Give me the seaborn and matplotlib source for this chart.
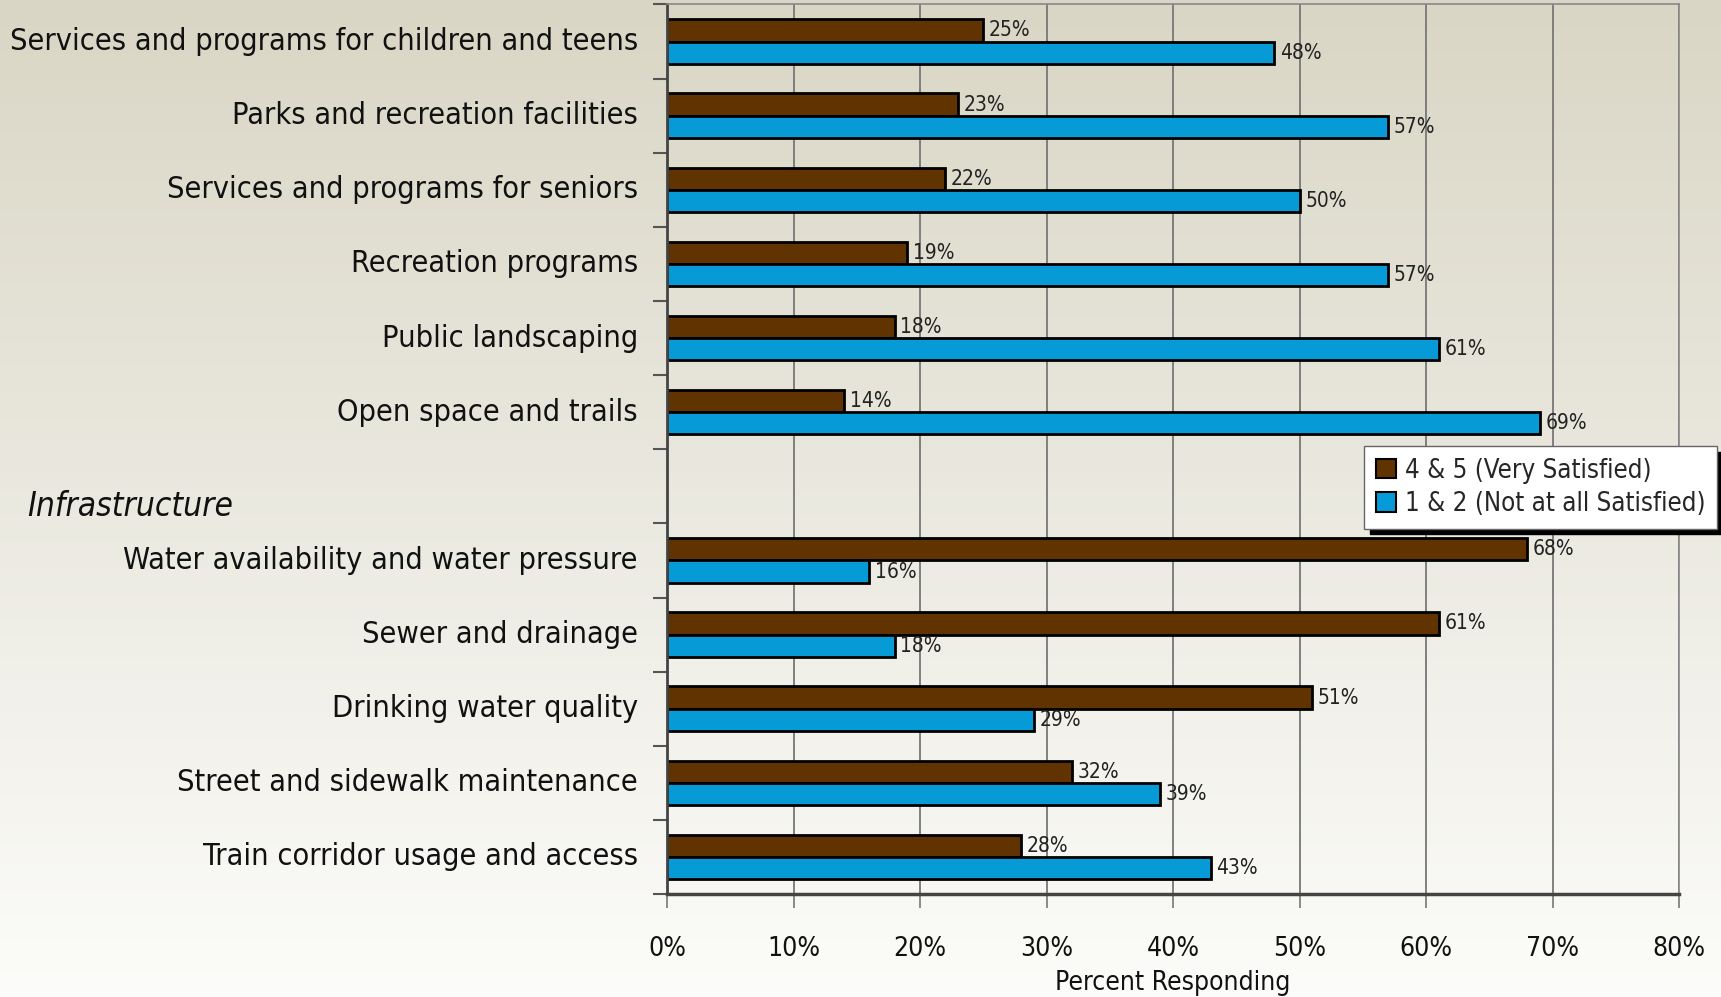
import numpy as np
import pandas as pd
import matplotlib.pyplot as plt
import matplotlib.transforms as mtransforms
from matplotlib.patches import Patch
import seaborn as sns

# Categories top to bottom; "Infrastructure" is a section header row with no bars
categories = [
    "Services and programs for children and teens",
    "Parks and recreation facilities",
    "Services and programs for seniors",
    "Recreation programs",
    "Public landscaping",
    "Open space and trails",
    "Infrastructure",
    "Water availability and water pressure",
    "Sewer and drainage",
    "Drinking water quality",
    "Street and sidewalk maintenance",
    "Train corridor usage and access",
]
very_satisfied = [25, 23, 22, 19, 18, 14, None, 68, 61, 51, 32, 28]
not_satisfied = [48, 57, 50, 57, 61, 69, None, 16, 18, 29, 39, 43]
series_names = ["4 & 5 (Very Satisfied)", "1 & 2 (Not at all Satisfied)"]
x_ticks = [0, 10, 20, 30, 40, 50, 60, 70, 80]

BROWN = "#613300"
BLUE = "#069bd6"

rows = []
for cat, v1, v2 in zip(categories, very_satisfied, not_satisfied):
    if v1 is None:
        continue
    rows.append({"Category": cat, "Group": series_names[0], "Percent": v1})
    rows.append({"Category": cat, "Group": series_names[1], "Percent": v2})
df = pd.DataFrame(rows)

sns.set_theme(style="white")
plt.rcParams["font.family"] = ["DejaVu Sans"]
plt.rcParams["font.stretch"] = "condensed"

fig = plt.figure(figsize=(17.21, 9.97), dpi=100)

# background gradient, beige at top fading to white
bg = fig.add_axes([0, 0, 1, 1], zorder=-10)
top_c = np.array([217, 214, 197]) / 255
bot_c = np.array([252, 252, 250]) / 255
t = np.linspace(0, 1, 256)[:, None]
grad = (top_c * (1 - t) + bot_c * t)[:, None, :]
bg.imshow(grad, aspect="auto", extent=[0, 1, 0, 1], origin="upper")
bg.axis("off")

ax = fig.add_axes([0.3876, 0.1033, 0.5880, 0.8922])
ax.set_facecolor("none")

sns.barplot(
    data=df, y="Category", x="Percent", hue="Group", order=categories,
    hue_order=series_names, palette=[BROWN, BLUE], orient="h", width=0.6,
    edgecolor="black", linewidth=2, saturation=1, legend=False, ax=ax,
)

for container in ax.containers:
    ax.bar_label(container, fmt=lambda v: f"{v:.0f}%", padding=4,
                 fontsize=15, color="#222222")

ax.set_xlim(0, 80)
ax.set_ylim(len(categories) - 0.5, -0.5)
ax.set_xticks(x_ticks)
ax.set_xticklabels([f"{v}%" for v in x_ticks], fontsize=19, color="#111111")
ax.set_xlabel("Percent Responding", fontsize=19, labelpad=6, color="#111111")
ax.set_ylabel("")

# y tick labels at row centers, tick marks on row boundaries
ax.set_yticks(range(len(categories)))
ylabels = [c if c != "Infrastructure" else "" for c in categories]
ax.set_yticklabels(ylabels, fontsize=22, color="#111111", va="center")
ax.set_yticks(np.arange(-0.5, len(categories), 1), minor=True)
ax.tick_params(axis="y", which="major", length=0, pad=21)
ax.tick_params(axis="y", which="minor", length=10, width=1.5, color="#555555", left=True)
ax.tick_params(axis="x", length=10, width=1.2, color="#777777", bottom=True, pad=20)

ax.grid(axis="x", color="#777777", linewidth=1.3)
ax.set_axisbelow(True)
for side in ["top", "right"]:
    ax.spines[side].set_color("#888888")
    ax.spines[side].set_linewidth(1.2)
ax.spines["left"].set_color("#444444")
ax.spines["left"].set_linewidth(2)
ax.spines["bottom"].set_color("#444444")
ax.spines["bottom"].set_linewidth(2.5)

# section header, sits a little below the centre of its empty row
trans = mtransforms.blended_transform_factory(fig.transFigure, ax.transData)
ax.text(0.016, categories.index("Infrastructure") + 0.27, "Infrastructure", transform=trans,
        fontsize=24, fontstyle="italic", ha="left", va="center", color="#111111")

handles = [Patch(facecolor=BROWN, edgecolor="black", linewidth=1.5),
           Patch(facecolor=BLUE, edgecolor="black", linewidth=1.5)]
leg = ax.legend(
    handles, series_names, loc="upper left",
    bbox_to_anchor=(0.7926, 0.5527), bbox_transform=fig.transFigure,
    borderaxespad=0, fancybox=False, frameon=True, fontsize=18.5,
    handlelength=0.8, handleheight=0.8, handletextpad=0.35, borderpad=0.45,
    labelspacing=0.3,
    shadow={"ox": 4, "oy": -4, "facecolor": "black", "edgecolor": "black", "alpha": 1},
)
leg.get_frame().set_edgecolor("#666666")
leg.get_frame().set_facecolor("white")
leg.get_frame().set_linewidth(1)
leg.get_frame().set_alpha(1)

plt.savefig("out.png", dpi=100)
plt.close()
